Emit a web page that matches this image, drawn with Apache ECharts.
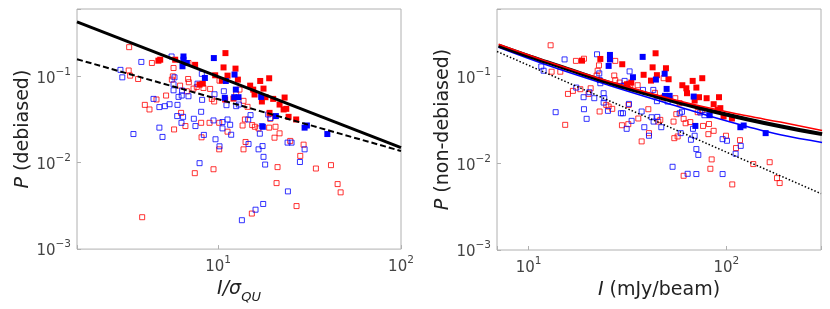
<!DOCTYPE html>
<html>
<head>
<meta charset="utf-8">
<script src="https://cdn.jsdelivr.net/npm/echarts@6/dist/echarts.min.js"></script>
<style>html,body{margin:0;padding:0;background:#fff}#c{width:830px;height:309px}</style>
</head>
<body>
<div id="c"></div>
<script>
// ---------- Left panel: P (debiased) vs I/sigma_QU ----------
var leftRedFilled = [[4.71,0.152],[4.82,0.156],[5.82,0.156],[7.48,0.136],[10.96,0.186],[10.70,0.127],[12.44,0.123],[9.63,0.103],[11.25,0.102],[10.47,0.0893],[12.82,0.0917],[8.24,0.0824],[7.91,0.0803],[14.96,0.0781],[15.55,0.0703],[16.98,0.0885],[19.01,0.0951],[17.70,0.0722],[15.81,0.0617],[12.13,0.0553],[10.92,0.0540],[18.15,0.0574],[19.99,0.0549],[17.34,0.0512],[23.09,0.0569],[21.67,0.0472],[22.80,0.0414],[23.58,0.0421],[19.10,0.0378],[24.27,0.0340],[26.71,0.0317]];
var leftBlueFilled = [[6.46,0.170],[6.46,0.156],[6.38,0.131],[6.74,0.143],[9.47,0.163],[12.29,0.105],[8.46,0.0959],[11.01,0.0885],[12.49,0.0703],[10.87,0.0564],[12.24,0.0574],[12.92,0.0574],[17.19,0.0579],[20.68,0.0347],[17.55,0.0261],[29.70,0.0255],[30.57,0.0270],[39.54,0.0215]];
var leftRedOpen = [[3.26,0.218],[4.34,0.143],[6.88,0.143],[5.70,0.125],[3.24,0.117],[3.30,0.102],[3.65,0.0933],[5.65,0.100],[5.58,0.0917],[6.85,0.0933],[6.91,0.0855],[6.19,0.0781],[7.64,0.0755],[7.33,0.0722],[8.31,0.0734],[9.04,0.0716],[6.74,0.0673],[5.19,0.0600],[4.60,0.0540],[3.97,0.0468],[4.21,0.0414],[6.27,0.0378],[9.23,0.0549],[9.51,0.0512],[8.07,0.0290],[8.97,0.0290],[6.62,0.0266],[5.74,0.0243],[8.11,0.0197],[10.13,0.0290],[11.25,0.0229],[13.60,0.0270],[14.00,0.0317],[14.48,0.0444],[15.35,0.0273],[15.88,0.0261],[16.63,0.0250],[13.76,0.0521],[19.01,0.0255],[20.59,0.0261],[20.33,0.0195],[21.67,0.0219],[24.78,0.0179],[29.33,0.0162],[28.12,0.0120],[14.12,0.0174],[10.13,0.0143],[13.76,0.0143],[7.45,0.00757],[9.43,0.00841],[21.12,0.00890],[34.24,0.00857],[41.40,0.00938],[20.86,0.00581],[45.01,0.00566],[46.75,0.00454],[26.83,0.00315],[15.28,0.00258],[3.84,0.00234],[19.26,0.0323],[12.55,0.0627],[13.08,0.0703],[10.17,0.0893]];
var leftBlueOpen = [[5.56,0.170],[3.80,0.147],[2.92,0.119],[2.99,0.0975],[5.77,0.0975],[8.14,0.107],[5.70,0.0809],[6.35,0.0685],[5.70,0.0690],[6.32,0.0600],[6.07,0.0579],[6.88,0.0589],[7.71,0.0824],[4.43,0.0549],[4.77,0.0441],[5.11,0.0452],[5.42,0.0476],[5.99,0.0468],[5.97,0.0347],[6.43,0.0340],[6.30,0.0290],[8.07,0.0389],[7.36,0.0323],[7.51,0.0266],[4.77,0.0255],[3.44,0.0215],[4.96,0.0199],[8.35,0.0210],[8.17,0.0535],[9.55,0.0621],[10.74,0.0673],[11.10,0.0464],[12.55,0.0452],[12.97,0.0472],[15.03,0.0356],[14.60,0.0317],[9.43,0.0309],[10.56,0.0296],[11.25,0.0317],[11.63,0.0275],[10.56,0.0250],[11.78,0.0211],[9.67,0.0187],[10.17,0.0155],[14.66,0.0165],[16.90,0.0217],[17.34,0.0266],[18.78,0.0362],[19.34,0.0329],[17.49,0.0156],[16.63,0.0143],[23.97,0.0171],[25.20,0.0171],[29.70,0.0143],[17.70,0.0117],[18.07,0.00953],[28.00,0.0102],[7.91,0.00989],[24.07,0.00466],[17.63,0.00333],[16.01,0.00286],[13.48,0.00216]];
var leftFitSolid = [[1.69,0.427],[100,0.0150]];
var leftFitDashed = [[1.69,0.158],[100,0.0137]];

// ---------- Right panel: P (non-debiased) vs I (mJy/beam) ----------
var rightRedFilled = [[18.62,0.153],[23.05,0.160],[29.75,0.139],[43.86,0.186],[42.37,0.128],[49.49,0.125],[38.16,0.105],[44.54,0.104],[41.57,0.090],[51.05,0.0933],[33.05,0.0855],[31.44,0.0816],[59.88,0.0796],[62.75,0.0734],[67.55,0.0893],[70.51,0.0748],[75.53,0.0959],[63.25,0.0644],[72.72,0.0579],[69.13,0.0530],[79.46,0.0564],[91.81,0.0579],[86.23,0.0481],[93.20,0.0433],[90.37,0.0414],[96.83,0.0347],[106.7,0.0329],[48.17,0.0574]];
var rightBlueFilled = [[25.78,0.178],[25.78,0.158],[25.39,0.133],[37.73,0.169],[48.74,0.108],[44.03,0.0925],[33.70,0.0984],[49.88,0.0722],[48.92,0.0600],[51.64,0.0600],[68.33,0.0589],[82.35,0.0359],[69.70,0.0270],[117.7,0.0261],[122.3,0.0273],[158.0,0.0223]];
var rightRedOpen = [[12.92,0.230],[13.07,0.114],[14.46,0.114],[17.35,0.152],[19.05,0.161],[22.69,0.135],[22.34,0.117],[22.08,0.103],[15.81,0.0632],[16.75,0.0685],[18.25,0.0716],[20.59,0.0734],[20.10,0.0632],[15.31,0.0278],[27.42,0.152],[27.10,0.103],[27.42,0.0909],[28.82,0.0855],[24.70,0.0472],[25.39,0.0452],[26.48,0.0425],[22.86,0.0396],[30.46,0.0796],[32.04,0.0824],[35.59,0.0796],[32.04,0.0472],[29.64,0.0275],[31.92,0.0283],[35.86,0.0329],[40.30,0.0421],[37.29,0.0179],[40.61,0.0223],[43.51,0.0650],[45.25,0.0303],[46.34,0.0317],[48.17,0.0959],[54.06,0.0303],[55.84,0.0369],[55.18,0.0564],[58.06,0.0494],[60.80,0.0326],[62.22,0.0290],[65.70,0.0299],[54.54,0.0195],[56.71,0.0204],[76.23,0.0270],[81.67,0.0284],[81.09,0.0217],[86.23,0.0237],[60.80,0.00718],[84.27,0.0111],[82.99,0.00865],[99.54,0.0208],[117.2,0.0185],[111.9,0.0150],[107.1,0.00571],[136.8,0.00980],[165.6,0.0103],[180.3,0.00675],[186.0,0.00592],[71.63,0.0389],[75.53,0.0414],[32.66,0.0769]];
var rightBlueOpen = [[22.18,0.181],[15.20,0.158],[11.59,0.131],[11.91,0.117],[22.77,0.109],[23.05,0.0839],[22.86,0.0917],[32.41,0.115],[30.58,0.0893],[29.28,0.0781],[17.41,0.0748],[18.97,0.0579],[20.28,0.0661],[21.48,0.0564],[23.95,0.0644],[24.14,0.0564],[23.95,0.0502],[25.18,0.0403],[13.70,0.0389],[19.05,0.0421],[19.65,0.0326],[29.28,0.0378],[29.99,0.0378],[32.17,0.0485],[33.18,0.0309],[37.87,0.0703],[42.70,0.0703],[44.54,0.0521],[37.29,0.0396],[38.46,0.0261],[41.89,0.0340],[44.72,0.0343],[42.86,0.0303],[46.87,0.0261],[31.32,0.0250],[40.61,0.0208],[50.46,0.0516],[58.06,0.0378],[59.66,0.0393],[58.76,0.0223],[67.80,0.0250],[69.13,0.0208],[66.19,0.0187],[70.51,0.0146],[72.14,0.0125],[95.72,0.0190],[100.69,0.0182],[118.2,0.0159],[111.4,0.0129],[53.45,0.00912],[63.71,0.00757],[70.51,0.00752],[95.72,0.00752],[73.85,0.0385],[77.42,0.0359]];
var rightCurveRed = [[7.05,0.236],[12.38,0.150],[25.39,0.0885],[58.5,0.0521],[127.0,0.0353],[187.4,0.0299],[304.8,0.0239]];
var rightCurveBlack = [[7.05,0.228],[10.19,0.170],[12.38,0.147],[15.04,0.127],[25.39,0.0855],[39.7,0.0632],[58.5,0.0494],[86.2,0.0396],[127.0,0.0323],[187.4,0.0268],[304.8,0.0217]];
var rightCurveBlue = [[7.05,0.218],[12.38,0.136],[25.39,0.0796],[58.5,0.0444],[86.2,0.0340],[127.0,0.0266],[187.4,0.0213],[304.8,0.0174]];
var rightDotted = [[6.92,0.195],[301,0.00447]];

// axis ranges and tick labels
var yRange = [0.001, 0.603];
var leftXRange = [1.69, 100];
var rightXRange = [6.92, 301];
var supDigits = {'-3':'−3','-2':'−2','-1':'−1','0':'0','1':'1','2':'2'};

var chart = echarts.init(document.getElementById('c'), null, {renderer: 'canvas'});

var FONT = 'DejaVu Sans';
var TICK_COLOR = '#444';
var SPINE = '#b0b0b0';

function powFmt(v) {
  var l = Math.log(v) / Math.LN10;
  var e = Math.round(l);
  if (Math.abs(l - e) > 1e-6) return '';
  return '{b|10}{s|' + supDigits[String(e)] + '}';
}
var richSup = {
  b: {fontSize: 15, fontFamily: FONT, color: TICK_COLOR, lineHeight: 20, verticalAlign: 'bottom'},
  s: {fontSize: 10.5, fontFamily: FONT, color: TICK_COLOR, lineHeight: 12, verticalAlign: 'top'}
};

function xAxisDef(idx, range, nameRich, name) {
  return {
    type: 'log', gridIndex: idx, min: range[0], max: range[1], logBase: 10,
    axisLine: {show: false},
    axisTick: {show: true, inside: true, length: 4, lineStyle: {color: SPINE, width: 1}},
    minorTick: {show: false},
    splitLine: {show: false},
    axisLabel: {formatter: powFmt, rich: richSup, margin: 6, showMinLabel: true, showMaxLabel: true},
    name: name, nameLocation: 'middle', nameGap: 30,
    nameTextStyle: {fontFamily: FONT, fontSize: 19, color: '#222', rich: nameRich}
  };
}
function yAxisDef(idx, name) {
  return {
    type: 'log', gridIndex: idx, min: yRange[0], max: yRange[1], logBase: 10,
    axisLine: {show: false},
    axisTick: {show: true, inside: true, length: 4, lineStyle: {color: SPINE, width: 1}},
    minorTick: {show: false},
    splitLine: {show: false},
    axisLabel: {formatter: powFmt, rich: richSup, margin: 6},
    name: name, nameLocation: 'middle', nameGap: 42,
    nameTextStyle: {fontFamily: FONT, fontSize: 19, color: '#222',
      rich: {i: {fontFamily: FONT, fontSize: 19, fontStyle: 'italic', color: '#222'}}}
  };
}

function scatter(idx, data, color, filled) {
  return {
    type: 'scatter', xAxisIndex: idx, yAxisIndex: idx, data: data,
    symbol: 'rect', symbolSize: filled ? 6 : 5, silent: true,
    itemStyle: filled ? {color: color, opacity: 1} :
      {color: 'rgba(255,255,255,0)', borderColor: color, borderWidth: 1, opacity: 0.8}
  };
}
function line(idx, data, color, width, type, smooth) {
  return {
    type: 'line', xAxisIndex: idx, yAxisIndex: idx, data: data, showSymbol: false,
    symbol: 'none', smooth: smooth ? 0.4 : false, silent: true,
    lineStyle: {color: color, width: width, type: type || 'solid'}
  };
}

var option = {
  animation: false,
  backgroundColor: '#fff',
  textStyle: {fontFamily: FONT},
  grid: [
    {left: 77, top: 9, width: 324, height: 241, show: true, borderColor: SPINE, borderWidth: 1, backgroundColor: 'transparent'},
    {left: 497, top: 9, width: 324, height: 241, show: true, borderColor: SPINE, borderWidth: 1, backgroundColor: 'transparent'}
  ],
  xAxis: [
    xAxisDef(0, leftXRange, {
      i: {fontFamily: FONT, fontSize: 19, fontStyle: 'italic', color: '#222', lineHeight: 24, verticalAlign: 'top'},
      sub: {fontFamily: FONT, fontSize: 13, fontStyle: 'italic', color: '#222', lineHeight: 14, verticalAlign: 'bottom'}
    }, '{i|I/σ}{sub|QU}'),
    xAxisDef(1, rightXRange, {
      i: {fontFamily: FONT, fontSize: 19, fontStyle: 'italic', color: '#222'}
    }, '{i|I} (mJy/beam)')
  ],
  yAxis: [
    yAxisDef(0, '{i|P} (debiased)'),
    yAxisDef(1, '{i|P} (non-debiased)')
  ],
  series: [
    scatter(0, leftRedOpen, '#ff0000', false),
    scatter(0, leftBlueOpen, '#0000ff', false),
    scatter(0, leftRedFilled, '#ff0000', true),
    scatter(0, leftBlueFilled, '#0000ff', true),
    line(0, leftFitSolid, '#000', 3),
    line(0, leftFitDashed, '#000', 2, [6, 3]),

    scatter(1, rightRedOpen, '#ff0000', false),
    scatter(1, rightBlueOpen, '#0000ff', false),
    scatter(1, rightRedFilled, '#ff0000', true),
    scatter(1, rightBlueFilled, '#0000ff', true),
    line(1, rightDotted, '#000', 1.5, [1.5, 2]),
    line(1, rightCurveBlue, '#0000ff', 1.5, 'solid', true),
    line(1, rightCurveBlack, '#000', 4, 'solid', true),
    line(1, rightCurveRed, '#ff0000', 1.5, 'solid', true)
  ]
};
chart.setOption(option);
</script>
</body>
</html>
